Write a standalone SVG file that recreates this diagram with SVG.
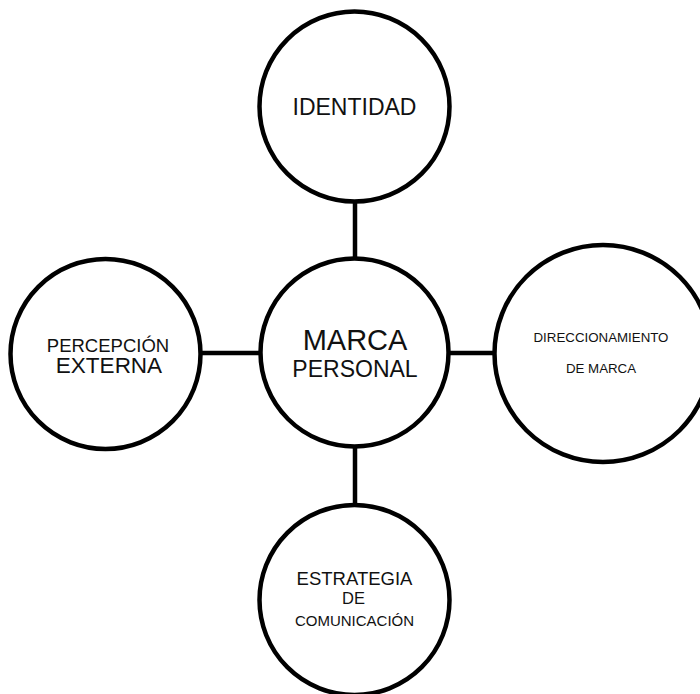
<svg xmlns="http://www.w3.org/2000/svg" width="700" height="694" viewBox="0 0 700 694">
<style>
.n{fill:#fff;stroke:#000;stroke-width:4.5}
.c{stroke:#000;stroke-width:4.5;fill:none}
text{font-family:"Liberation Sans",Arial,sans-serif;fill:#111;text-anchor:middle}
</style>
<rect width="700" height="694" fill="#fff"/>
<g id="connectors">
<line class="c" x1="355" y1="202" x2="355" y2="258"/>
<line class="c" x1="355" y1="446" x2="355" y2="505"/>
<line class="c" x1="202" y1="353" x2="260" y2="353"/>
<line class="c" x1="450" y1="353" x2="495" y2="353"/>
</g>
<g id="identidad">
<circle class="n" cx="354.5" cy="106.5" r="95"/>
<text x="354.5" y="115" font-size="23">IDENTIDAD</text>
</g>
<g id="marca-personal">
<circle class="n" cx="354.5" cy="352.5" r="94"/>
<text x="355" y="350" font-size="29">MARCA</text>
<text x="355" y="377" font-size="23">PERSONAL</text>
</g>
<g id="percepcion-externa">
<circle class="n" cx="105.5" cy="354" r="95"/>
<text x="108" y="352" font-size="18.5">PERCEPCIÓN</text>
<text x="109" y="373" font-size="22.5">EXTERNA</text>
</g>
<g id="direccionamiento">
<circle class="n" cx="603" cy="353.5" r="108.5"/>
<text x="601" y="342" font-size="13.3">DIRECCIONAMIENTO</text>
<text x="601" y="373" font-size="13.3">DE MARCA</text>
</g>
<g id="estrategia">
<circle class="n" cx="354.5" cy="600" r="95"/>
<text x="354.5" y="585" font-size="18.5">ESTRATEGIA</text>
<text x="353.5" y="604" font-size="16.5">DE</text>
<text x="354.5" y="626" font-size="15">COMUNICACIÓN</text>
</g>
</svg>
